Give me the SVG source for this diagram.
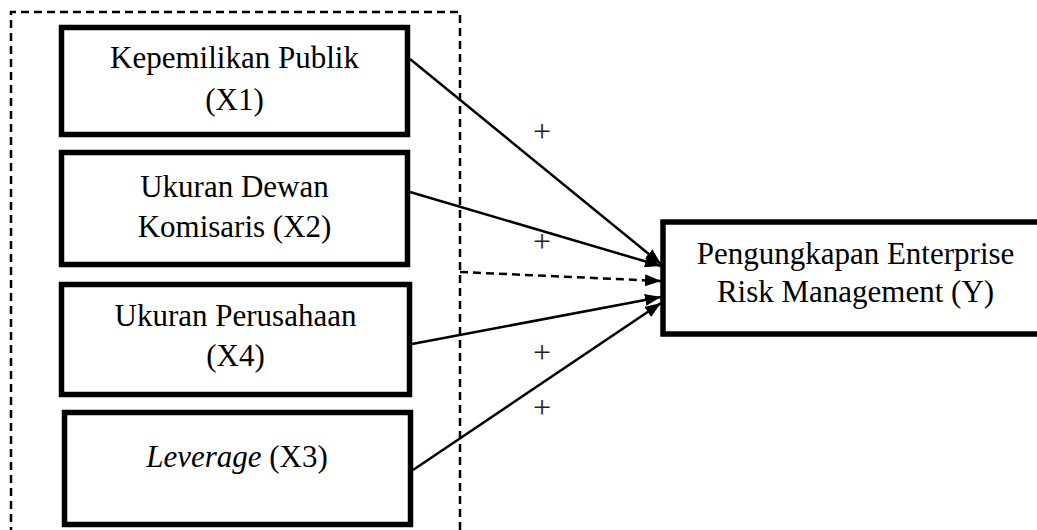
<svg xmlns="http://www.w3.org/2000/svg" width="1037" height="530" viewBox="0 0 1037 530">
  <style>
    .box { fill: #ffffff; stroke: #000000; stroke-width: 5.5; }
    .lbl { font-family: "Liberation Serif", "Times New Roman", serif; font-size: 31px; fill: #000000; text-anchor: middle; }
    .plus { font-family: "Liberation Serif", "Times New Roman", serif; font-size: 32px; fill: #222222; text-anchor: middle; }
    .conn { fill: none; stroke: #000000; stroke-width: 2.5; }
    .dash { fill: none; stroke: #000000; stroke-width: 2.5; stroke-dasharray: 8 5; }
  </style>
  <defs>
    <marker id="arr" viewBox="0 0 16 12" refX="16" refY="6" markerWidth="16" markerHeight="12" markerUnits="userSpaceOnUse" orient="auto">
      <path d="M0,0 L16,6 L0,12 Z" fill="#000000"/>
    </marker>
  </defs>
  <rect width="1037" height="530" fill="#ffffff"/>

  <g id="group-boundary">
    <path class="dash" d="M11,535 L11,12 L460,12 L460,535"/>
  </g>

  <g id="node-x1">
    <rect class="box" x="61.5" y="27.5" width="346" height="107"/>
    <text class="lbl" x="234.5" y="68">Kepemilikan Publik</text>
    <text class="lbl" x="234.5" y="110">(X1)</text>
  </g>
  <g id="node-x2">
    <rect class="box" x="61.5" y="152.5" width="346" height="112"/>
    <text class="lbl" x="234.5" y="197">Ukuran Dewan</text>
    <text class="lbl" x="234.5" y="237">Komisaris (X2)</text>
  </g>
  <g id="node-x4">
    <rect class="box" x="61.5" y="284.5" width="348" height="110"/>
    <text class="lbl" x="235.5" y="326">Ukuran Perusahaan</text>
    <text class="lbl" x="235.5" y="366">(X4)</text>
  </g>
  <g id="node-x3">
    <rect class="box" x="64.5" y="412.5" width="346" height="112"/>
    <text class="lbl" x="237" y="467"><tspan font-style="italic">Leverage</tspan> (X3)</text>
  </g>
  <g id="node-y">
    <rect class="box" x="663" y="222" width="380" height="112" stroke-width="6"/>
    <text class="lbl" x="855.5" y="264">Pengungkapan Enterprise</text>
    <text class="lbl" x="855.5" y="302">Risk Management (Y)</text>
  </g>

  <g id="connectors">
    <line class="conn" x1="410" y1="59" x2="661" y2="264" marker-end="url(#arr)"/>
    <line class="conn" x1="410" y1="192" x2="661" y2="266" marker-end="url(#arr)"/>
    <line class="conn" x1="412" y1="344" x2="661" y2="297" marker-end="url(#arr)"/>
    <line class="conn" x1="413" y1="470" x2="661" y2="303" marker-end="url(#arr)"/>
    <path class="dash" d="M460,272 L661,281" marker-end="url(#arr)"/>
  </g>

  <g id="labels">
    <text class="plus" x="542" y="142">+</text>
    <text class="plus" x="542" y="252">+</text>
    <text class="plus" x="542" y="363">+</text>
    <text class="plus" x="542" y="418">+</text>
  </g>
</svg>
